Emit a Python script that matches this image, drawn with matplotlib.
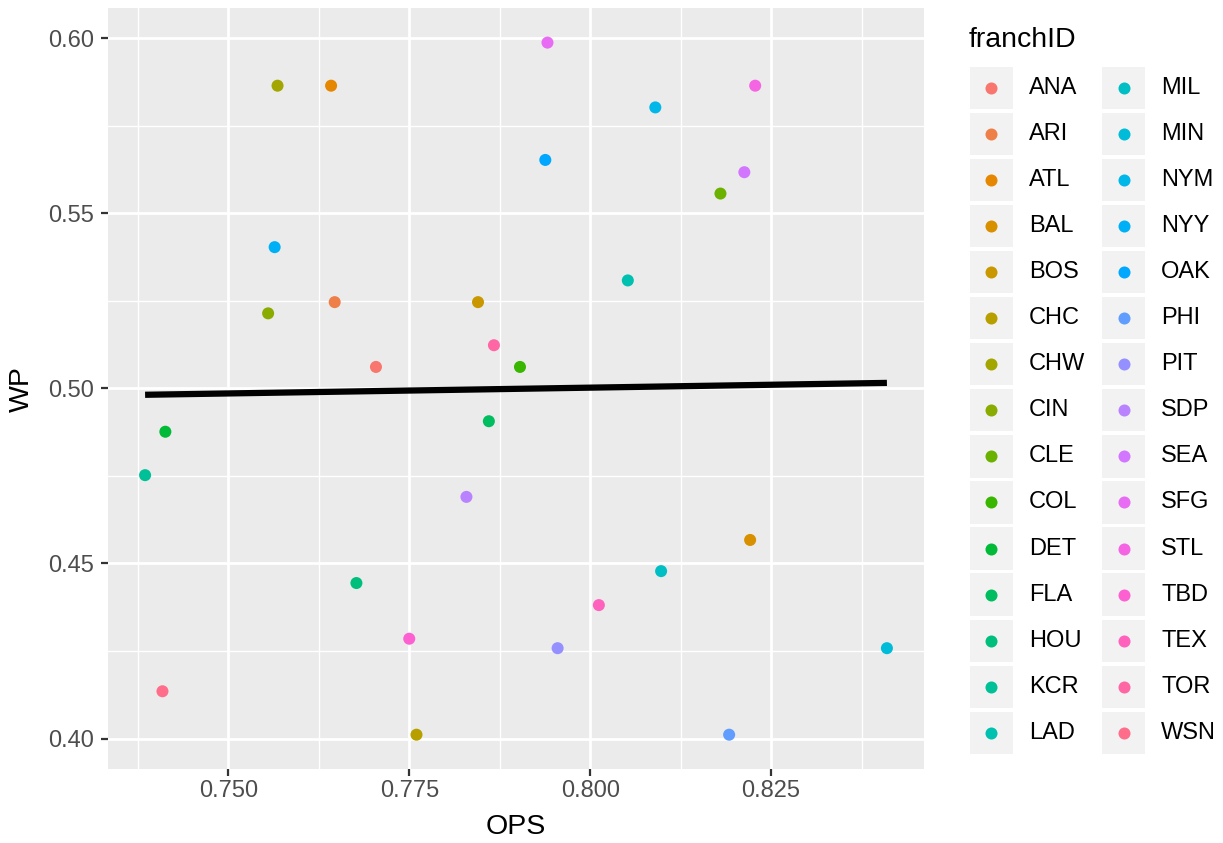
import numpy as np
import matplotlib
matplotlib.use("Agg")
import matplotlib.pyplot as plt
from matplotlib.patches import Rectangle
from matplotlib.ticker import MultipleLocator, FormatStrFormatter

# Dades: OPS i percentatge de victòries per franquícia
franch = ['ANA', 'ARI', 'ATL', 'BAL', 'BOS', 'CHC', 'CHW', 'CIN', 'CLE', 'COL',
          'DET', 'FLA', 'HOU', 'KCR', 'LAD', 'MIL', 'MIN', 'NYM', 'NYY', 'OAK',
          'PHI', 'PIT', 'SDP', 'SEA', 'SFG', 'STL', 'TBD', 'TEX', 'TOR', 'WSN']
ops = [0.7704, 0.7647, 0.7642, 0.8221, 0.7845, 0.7760, 0.7568, 0.7555, 0.8180, 0.7903,
       0.7413, 0.7860, 0.7677, 0.7385, 0.8052, 0.8098, 0.8410, 0.8090, 0.7564, 0.7938,
       0.8192, 0.7955, 0.7829, 0.8213, 0.7941, 0.8228, 0.7750, 0.8012, 0.7867, 0.7409]
wp = [0.5061, 0.5246, 0.5864, 0.4567, 0.5246, 0.4011, 0.5864, 0.5214, 0.5556, 0.5061,
      0.4876, 0.4906, 0.4444, 0.4752, 0.5308, 0.4478, 0.4258, 0.5802, 0.5403, 0.5652,
      0.4011, 0.4258, 0.4690, 0.5617, 0.5987, 0.5864, 0.4285, 0.4381, 0.5123, 0.4135]


def hcl_hex(h, c=100.0, l=65.0):
    # conversió HCL (polar LUV) a sRGB, com hue_pal() de ggplot2
    hr = np.radians(h)
    u, v = c * np.cos(hr), c * np.sin(hr)
    xn, yn, zn = 95.047, 100.0, 108.883
    un = 4 * xn / (xn + 15 * yn + 3 * zn)
    vn = 9 * yn / (xn + 15 * yn + 3 * zn)
    y = yn * ((l + 16) / 116) ** 3
    up = u / (13 * l) + un
    vp = v / (13 * l) + vn
    x = 9 * y * up / (4 * vp)
    z = (9 * y / vp - x - 15 * y) / 3
    x, y, z = x / 100, y / 100, z / 100
    rgb = [3.240479 * x - 1.537150 * y - 0.498535 * z,
           -0.969256 * x + 1.875992 * y + 0.041556 * z,
           0.055648 * x - 0.204043 * y + 1.057311 * z]
    out = []
    for ch in rgb:
        ch = 12.92 * ch if ch <= 0.0031308 else 1.055 * ch ** (1 / 2.4) - 0.055
        out.append(min(max(ch, 0), 1))
    return tuple(out)


n = len(franch)
colors = [hcl_hex(15 + 360 * i / n) for i in range(n)]

plt.rcParams['font.family'] = ['Liberation Sans', 'DejaVu Sans']

W, H = 1223, 843
fig = plt.figure(figsize=(W / 100, H / 100), dpi=100)

# panell
left, right, top, bottom = 108, 924, 8, 769.3
ax = fig.add_axes([left / W, 1 - bottom / H, (right - left) / W, (bottom - top) / H])
ax.set_facecolor('#EBEBEB')
for s in ax.spines.values():
    s.set_visible(False)

ops_a = np.array(ops)
wp_a = np.array(wp)
ax.scatter(ops_a, wp_a, c=colors, s=75, linewidths=0, zorder=3)

# recta de regressió lineal
m, b = np.polyfit(ops_a, wp_a, 1)
xs = np.array([ops_a.min(), ops_a.max()])
ax.plot(xs, m * xs + b, color='black', lw=4.5, solid_capstyle='butt', zorder=4)

# límits amb l'expansió del 5% de ggplot
xr = ops_a.max() - ops_a.min()
yr = wp_a.max() - wp_a.min()
ax.set_xlim(ops_a.min() - 0.05 * xr, ops_a.max() + 0.05 * xr)
ax.set_ylim(wp_a.min() - 0.05 * yr, wp_a.max() + 0.05 * yr)

ax.xaxis.set_major_locator(MultipleLocator(0.025))
ax.xaxis.set_minor_locator(MultipleLocator(0.0125))
ax.yaxis.set_major_locator(MultipleLocator(0.05))
ax.yaxis.set_minor_locator(MultipleLocator(0.025))
ax.xaxis.set_major_formatter(FormatStrFormatter('%.3f'))
ax.yaxis.set_major_formatter(FormatStrFormatter('%.2f'))
ax.grid(which='major', color='white', lw=2.0)
ax.grid(which='minor', color='white', lw=1.0)
ax.set_axisbelow(True)
ax.tick_params(which='major', length=4.7, width=1.6, color='#333333',
               labelsize=17, labelcolor='#4D4D4D')
ax.tick_params(axis='x', which='major', pad=3)
ax.tick_params(axis='y', which='major', pad=5.5)
ax.tick_params(which='minor', length=0)

ax.set_xlabel('OPS', fontsize=20.5)
ax.set_ylabel('WP', fontsize=20.5)
ax.xaxis.set_label_coords(0.5, (bottom - 827) / (bottom - top))
ax.xaxis.label.set_va('center')
ax.yaxis.set_label_coords((22 - left) / (right - left), 0.5)
ax.yaxis.label.set_va('center')

# llegenda feta a mà, en coordenades de píxel
lg = fig.add_axes([0, 0, 1, 1])
lg.set_xlim(0, W)
lg.set_ylim(H, 0)
lg.axis('off')
lg.text(969, 46.7, 'franchID', fontsize=20.5, va='baseline', ha='left')
key_w, key_h, pitch = 43, 42.3, 46.07
cols_x = [969.7, 1102.3]
text_x = [1029, 1161]
for i, (name, col) in enumerate(zip(franch, colors)):
    c = i // 15
    r = i % 15
    y0 = 66.7 + r * pitch
    lg.add_patch(Rectangle((cols_x[c], y0), key_w, key_h, facecolor='#F2F2F2',
                           edgecolor='none'))
    lg.scatter([cols_x[c] + key_w / 2], [y0 + key_h / 2], s=75, color=col,
               linewidths=0)
    lg.text(text_x[c], y0 + key_h / 2, name, fontsize=17, va='center', ha='left')

plt.savefig('out.png', dpi=100)
